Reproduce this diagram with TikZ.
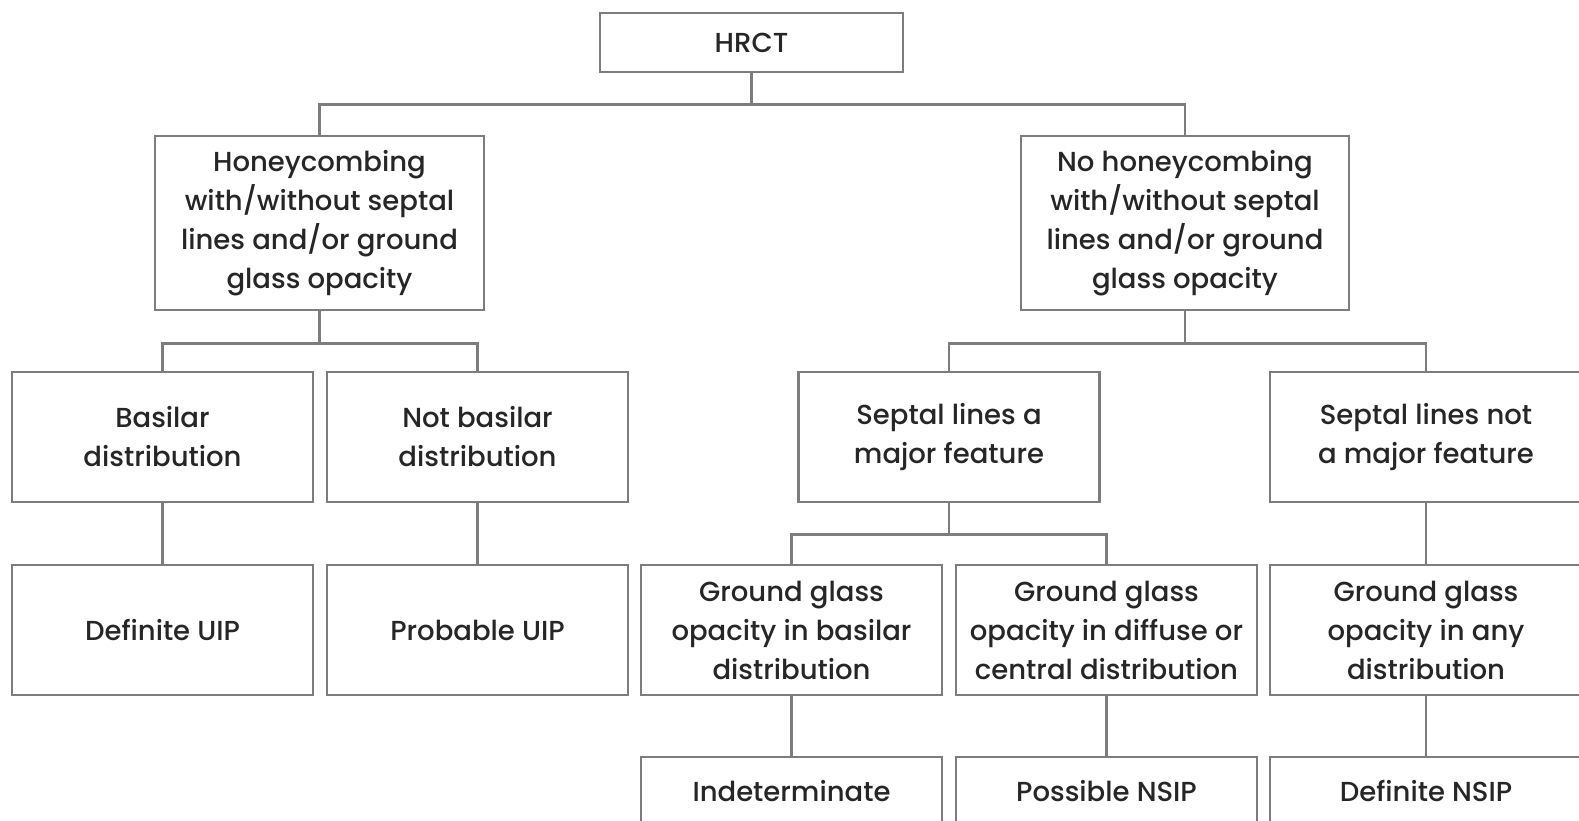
\documentclass[tikz,border=0pt]{standalone}
\usepackage{fontspec}
\setmainfont{Poppins}[UprightFont=* Medium]
\usetikzlibrary{positioning}
\definecolor{boxgray}{RGB}{125,125,125}

\begin{document}
\begin{tikzpicture}[x=1pt, y=-1pt,
  box/.style={draw=boxgray, line width=2.6pt, fill=white, align=center,
    text=black!85, font=\fontsize{27.5}{39}\selectfont, inner sep=0pt,
    minimum width=301pt, minimum height=130pt},
  link/.style={draw=boxgray, line width=2.6pt}]
  \useasboundingbox (0,0) rectangle (1579,821);
  \clip (0,0) rectangle (1579,821);

  % Top level
  \node[box, minimum height=59pt, minimum width=303pt] (hrct) at (751.5,42.5) {HRCT};

  % Honeycombing yes / no
  \node[box, minimum height=174pt, minimum width=329pt] (honey) at (319.5,223)
    {Honeycombing\\with/without septal\\lines and/or ground\\glass opacity};
  \node[box, minimum height=174pt, minimum width=328pt] (nohoney) at (1185,223)
    {No honeycombing\\with/without septal\\lines and/or ground\\glass opacity};

  % Second level
  \node[box] (basilar) at (162.5,437) {Basilar\\distribution};
  \node[box] (notbasilar) at (477.5,437) {Not basilar\\distribution};
  \node[box] (septmajor) at (949,437) {Septal lines a\\major feature};
  \node[box, minimum width=312pt] (septminor) at (1426,437) {Septal lines not\\a major feature};

  % Third level
  \node[box] (defuip) at (162.5,630) {Definite UIP};
  \node[box] (probuip) at (477.5,630) {Probable UIP};
  \node[box] (ggbasal) at (791.5,630) {Ground glass\\opacity in basilar\\distribution};
  \node[box] (ggdiffuse) at (1106.5,630) {Ground glass\\opacity in diffuse or\\central distribution};
  \node[box, minimum width=312pt] (ggany) at (1426,630) {Ground glass\\opacity in any\\distribution};

  % Bottom row (cut off)
  \node[box, minimum height=68pt] (indet) at (791.5,791) {Indeterminate};
  \node[box, minimum height=68pt] (possnsip) at (1106.5,791) {Possible NSIP};
  \node[box, minimum height=68pt, minimum width=312pt] (defnsip) at (1426,791) {Definite NSIP};

  % Connectors
  \draw[link] (hrct.south) -- ++(0,31) coordinate (bus1) -| (honey.north);
  \draw[link] (bus1) -| (nohoney.north);
  \draw[link] (honey.south) -- ++(0,32) coordinate (bus2) -| (basilar.north);
  \draw[link] (bus2) -| (notbasilar.north);
  \draw[link] (nohoney.south) -- ++(0,32) coordinate (bus3) -| (septmajor.north);
  \draw[link] (bus3) -| (septminor.north);
  \draw[link] (septmajor.south) -- ++(0,31) coordinate (bus4) -| (ggbasal.north);
  \draw[link] (bus4) -| (ggdiffuse.north);
  \draw[link] (basilar) -- (defuip);
  \draw[link] (notbasilar) -- (probuip);
  \draw[link] (septminor) -- (ggany);
  \draw[link] (ggbasal) -- (indet);
  \draw[link] (ggdiffuse) -- (possnsip);
  \draw[link] (ggany) -- (defnsip);
\end{tikzpicture}
\end{document}
